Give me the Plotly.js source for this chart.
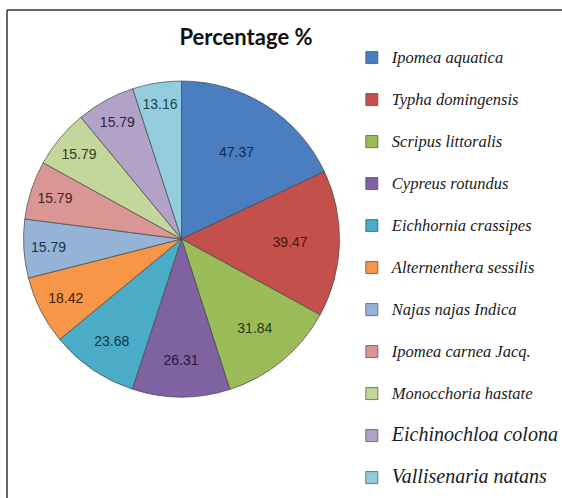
<!DOCTYPE html>
<html>
<head>
<meta charset="utf-8">
<script src="https://cdn.plot.ly/plotly-3.0.1.min.js"></script>
<style>html,body{margin:0;padding:0;background:#fff;}#chart{width:562px;height:498px;}</style>
</head>
<body>
<div id="chart"></div>
<script>
var species = ["Ipomea aquatica", "Typha domingensis", "Scripus littoralis", "Cypreus rotundus",
  "Eichhornia crassipes", "Alternenthera sessilis", "Najas najas Indica", "Ipomea carnea Jacq.",
  "Monocchoria hastate", "Eichinochloa colona", "Vallisenaria natans"];
var percentage = [47.37, 39.47, 31.84, 26.31, 23.68, 18.42, 15.79, 15.79, 15.79, 15.79, 13.16];
var valueLabels = ["47.37", "39.47", "31.84", "26.31", "23.68", "18.42", "15.79", "15.79", "15.79", "15.79", "13.16"];
var sliceColors = ["#4A7EC0", "#C4504C", "#9BBB59", "#7F62A1", "#4AACC6", "#F79646",
  "#95B3D7", "#D99694", "#C3D69B", "#B3A2C7", "#93CDDD"];
var textColors = ["#152C4C", "#4E1412", "#2A3812", "#261A36", "#0F3742", "#432305",
  "#1E3150", "#4E2220", "#35401A", "#31253F", "#1C4551"];
var legendSizes = [16.5, 16.5, 16.5, 16.5, 16.5, 16.5, 16.5, 16.5, 16.5, 20, 20];

var legendNames = species.map(function (s, i) {
  return '<span style="font-size:' + legendSizes[i] + 'px">' + s + '</span><br> ';
});

var trace = {
  type: "pie",
  labels: legendNames,
  values: percentage,
  text: valueLabels,
  textinfo: "text",
  textposition: "inside",
  insidetextorientation: "horizontal",
  sort: false,
  direction: "clockwise",
  rotation: 0,
  marker: { colors: sliceColors, line: { color: "rgba(70,70,70,0.7)", width: 1 } },
  insidetextfont: { family: "Liberation Sans, Arial, sans-serif", size: 14, color: textColors },
  domain: { x: [0.037, 0.609], y: [0.2028, 0.8373] },
  hoverinfo: "label+value"
};

var layout = {
  width: 562, height: 498,
  margin: { l: 0, r: 0, t: 0, b: 0, autoexpand: false },
  paper_bgcolor: "#ffffff",
  title: {
    text: "<b>Percentage %</b>",
    x: 246 / 562, xanchor: "center", xref: "paper",
    y: 1 - 37 / 498, yanchor: "middle", yref: "paper",
    font: { family: "Lato, Liberation Sans, sans-serif", size: 22, color: "#111" }
  },
  showlegend: true,
  legend: {
    x: 0.626, xanchor: "left",
    y: 0.917, yanchor: "top",
    valign: "top",
    font: { family: "Liberation Serif, Times New Roman, serif", size: 15, style: "italic", color: "#1a1a1a" },
    bgcolor: "rgba(0,0,0,0)",
    borderwidth: 0
  },
  shapes: [
    { type: "line", xref: "paper", yref: "paper", x0: 7 / 562, x1: 1.01, y0: 1 - 10 / 498, y1: 1 - 10 / 498, line: { color: "#333", width: 1.5 } },
    { type: "line", xref: "paper", yref: "paper", x0: 7 / 562, x1: 7 / 562, y0: 1 - 10 / 498, y1: -0.01, line: { color: "#333", width: 1.5 } }
  ]
};

Plotly.newPlot("chart", [trace], layout, { displayModeBar: false, staticPlot: true });
</script>
</body>
</html>
